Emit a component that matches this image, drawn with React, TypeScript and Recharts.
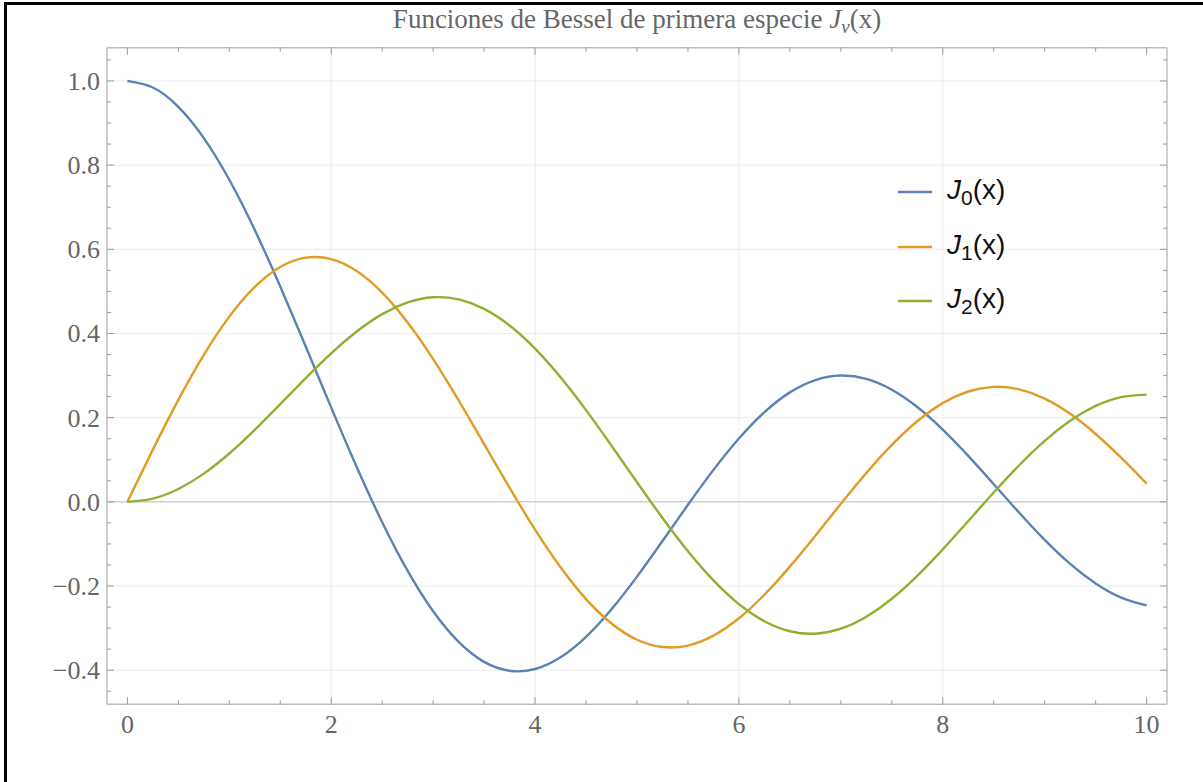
import React from "react";
import { LineChart, Line, XAxis, YAxis, CartesianGrid, ReferenceLine, Legend } from "recharts";

const xs = [0, 0.25, 0.5, 0.75, 1, 1.25, 1.5, 1.75, 2, 2.25, 2.5, 2.75, 3, 3.25, 3.5, 3.75, 4, 4.25, 4.5, 4.75, 5, 5.25, 5.5, 5.75, 6, 6.25, 6.5, 6.75, 7, 7.25, 7.5, 7.75, 8, 8.25, 8.5, 8.75, 9, 9.25, 9.5, 9.75, 10];
const j0 = [1.0, 0.984436, 0.93847, 0.864242, 0.765198, 0.645906, 0.511828, 0.369041, 0.223891, 0.082777, -0.048384, -0.164095, -0.260052, -0.332695, -0.380128, -0.401353, -0.39715, -0.369161, -0.320543, -0.255102, -0.177597, -0.093087, -0.006844, 0.075948, 0.150645, 0.213048, 0.260095, 0.289409, 0.300079, 0.291956, 0.26634, 0.225208, 0.171651, 0.1092, 0.041939, -0.025936, -0.090334, -0.147385, -0.193929, -0.227295, -0.245936];
const j1 = [0, 0.124027, 0.242268, 0.349244, 0.440051, 0.510574, 0.557937, 0.580102, 0.576725, 0.548332, 0.497094, 0.425943, 0.339059, 0.241113, 0.137378, 0.033247, -0.066043, -0.155517, -0.23106, -0.28914, -0.327579, -0.344966, -0.341438, -0.317906, -0.276684, -0.220701, -0.153841, -0.080324, -0.004683, 0.068561, 0.135248, 0.191566, 0.234636, 0.262161, 0.273122, 0.267179, 0.245312, 0.20912, 0.161264, 0.10483, 0.043473];
const j2 = [0, 0.007772, 0.030604, 0.067075, 0.114903, 0.171106, 0.232088, 0.293998, 0.352834, 0.404675, 0.446059, 0.473903, 0.486091, 0.481092, 0.45863, 0.419092, 0.364128, 0.295975, 0.217849, 0.133352, 0.046565, -0.038339, -0.117315, -0.186535, -0.242873, -0.283682, -0.307431, -0.313217, -0.301417, -0.273047, -0.230274, -0.175772, -0.112992, -0.045646, 0.022325, 0.087009, 0.144848, 0.192604, 0.227879, 0.248801, 0.254631];

const xTicks = [0, 0.5, 1, 1.5, 2, 2.5, 3, 3.5, 4, 4.5, 5, 5.5, 6, 6.5, 7, 7.5, 8, 8.5, 9, 9.5, 10];
const xMajor = [0, 2, 4, 6, 8, 10];
const yTicks = [-0.45, -0.4, -0.35, -0.3, -0.25, -0.2, -0.15, -0.1, -0.05, 0, 0.05, 0.1, 0.15, 0.2, 0.25, 0.3, 0.35, 0.4, 0.45, 0.5, 0.55, 0.6, 0.65, 0.7, 0.75, 0.8, 0.85, 0.9, 0.95, 1.0, 1.05];
const yMajor = [-0.4, -0.2, 0, 0.2, 0.4, 0.6, 0.8, 1.0];
const gridX = [2, 4, 6, 8];
const gridY = [-0.4, -0.2, 0.2, 0.4, 0.6, 0.8, 1.0];

const seriesKeys = ["j0", "j1", "j2"];
const seriesSubs = ["0", "1", "2"];
const seriesColors = ["#5E81B5", "#E19C24", "#8FB032"];

const data = xs.map((x, i) => ({ x, j0: j0[i], j1: j1[i], j2: j2[i] }));

const X_DOMAIN = [-0.2, 10.2];
const Y_DOMAIN = [-0.481, 1.079];

const TICK_COLOR = "#9a9a9a";
const FRAME_COLOR = "#bfbfbf";
const LABEL_COLOR = "#666666";
const SERIF = "'Liberation Serif', 'Times New Roman', serif";
const SANS = "'Liberation Sans', Arial, sans-serif";

const fmtY = (v: number) => (v < 0 ? "\u2212" + Math.abs(v).toFixed(1) : v.toFixed(1));

const BottomTick = (props: any) => {
  const { x, y, payload } = props;
  const major = xMajor.includes(payload.value);
  return (
    <g>
      <line x1={x} x2={x} y1={y} y2={y - (major ? 7 : 4)} stroke={TICK_COLOR} strokeWidth={1} />
      {major && (
        <text x={x} y={y + 29} textAnchor="middle" fill={LABEL_COLOR} fontFamily={SERIF} fontSize={26}>
          {String(payload.value)}
        </text>
      )}
    </g>
  );
};

const TopTick = (props: any) => {
  const { x, y, payload } = props;
  const major = xMajor.includes(payload.value);
  return <line x1={x} x2={x} y1={y} y2={y + (major ? 7 : 4)} stroke={TICK_COLOR} strokeWidth={1} />;
};

const LeftTick = (props: any) => {
  const { x, y, payload } = props;
  const major = yMajor.includes(payload.value);
  return (
    <g>
      <line x1={x} x2={x + (major ? 7 : 4)} y1={y} y2={y} stroke={TICK_COLOR} strokeWidth={1} />
      {major && (
        <text x={x - 7} y={y + 9} textAnchor="end" fill={LABEL_COLOR} fontFamily={SERIF} fontSize={26}>
          {fmtY(payload.value)}
        </text>
      )}
    </g>
  );
};

const RightTick = (props: any) => {
  const { x, y, payload } = props;
  const major = yMajor.includes(payload.value);
  return <line x1={x} x2={x - (major ? 7 : 4)} y1={y} y2={y} stroke={TICK_COLOR} strokeWidth={1} />;
};

const LegendContent = () => (
  <div style={{ display: "flex", flexDirection: "column" }}>
    {seriesKeys.map((k, i) => (
      <div key={k} style={{ display: "flex", alignItems: "center", height: 54.5 }}>
        <svg width={34} height={6} style={{ display: "block" }}>
          <line x1={0} x2={34} y1={3} y2={3} stroke={seriesColors[i]} strokeWidth={2.5} />
        </svg>
        <span style={{ marginLeft: 15, marginTop: 4, fontFamily: SANS, fontSize: 28, color: "#111", lineHeight: "32px", whiteSpace: "nowrap" }}>
          <span style={{ fontStyle: "italic" }}>J</span>
          <sub style={{ fontSize: 21, verticalAlign: "-6px" }}>{seriesSubs[i]}</sub>(x)
        </span>
      </div>
    ))}
  </div>
);

export default function App() {
  return (
    <div style={{ position: "absolute", left: 0, top: 0, width: 1203, height: 782, background: "#fff", overflow: "hidden" }}>
      <div style={{ position: "absolute", left: 4, top: 2, width: 1300, height: 778, borderLeft: "3px solid #000", borderTop: "3px solid #000", borderBottom: "1px solid #e2e2e2" }} />
      <svg style={{ position: "absolute", left: 0, top: 0 }} width={1203} height={45}>
        <text x={637} y={28} textAnchor="middle" fill={LABEL_COLOR} fontFamily={SERIF} fontSize={27}>
          Funciones de Bessel de primera especie{" "}
          <tspan fontStyle="italic">J</tspan>
          <tspan fontStyle="italic" fontSize={19} dy={5}>ν</tspan>
          <tspan dy={-5}>(x)</tspan>
        </text>
      </svg>
      <div style={{ position: "absolute", left: 0, top: 0 }}>
        <LineChart width={1203} height={782} data={data} margin={{ top: 27.7, right: 16, bottom: 37.7, left: 47 }}>
          <CartesianGrid stroke="#ececec" strokeWidth={1} horizontalValues={gridY} verticalValues={gridX} />
          <ReferenceLine y={0} stroke="#b8b8b8" strokeWidth={1} />
          <XAxis dataKey="x" type="number" domain={X_DOMAIN} allowDataOverflow ticks={xTicks} interval={0}
            height={40} tickSize={0} tickMargin={0} tick={<BottomTick />} axisLine={{ stroke: FRAME_COLOR, strokeWidth: 1.5 }} tickLine={false} />
          <XAxis xAxisId="top" orientation="top" dataKey="x" type="number" domain={X_DOMAIN} allowDataOverflow ticks={xTicks} interval={0}
            height={20} tickSize={0} tickMargin={0} tick={<TopTick />} axisLine={{ stroke: FRAME_COLOR, strokeWidth: 1.5 }} tickLine={false} />
          <YAxis type="number" domain={Y_DOMAIN} allowDataOverflow ticks={yTicks} interval={0}
            width={60} tickSize={0} tickMargin={0} tick={<LeftTick />} axisLine={{ stroke: FRAME_COLOR, strokeWidth: 1.5 }} tickLine={false} />
          <YAxis yAxisId="right" orientation="right" type="number" domain={Y_DOMAIN} allowDataOverflow ticks={yTicks} interval={0}
            width={20} tickSize={0} tickMargin={0} tick={<RightTick />} axisLine={{ stroke: FRAME_COLOR, strokeWidth: 1.5 }} tickLine={false} />
          {seriesKeys.map((k, i) => (
            <Line key={k} dataKey={k} type="natural" stroke={seriesColors[i]} strokeWidth={2.4} dot={false} activeDot={false} isAnimationActive={false} />
          ))}
          <Legend layout="vertical" align="center" verticalAlign="middle" content={<LegendContent />}
            wrapperStyle={{ position: "absolute", left: 898, top: 165, width: 160, height: "auto" }} />
        </LineChart>
      </div>
    </div>
  );
}
